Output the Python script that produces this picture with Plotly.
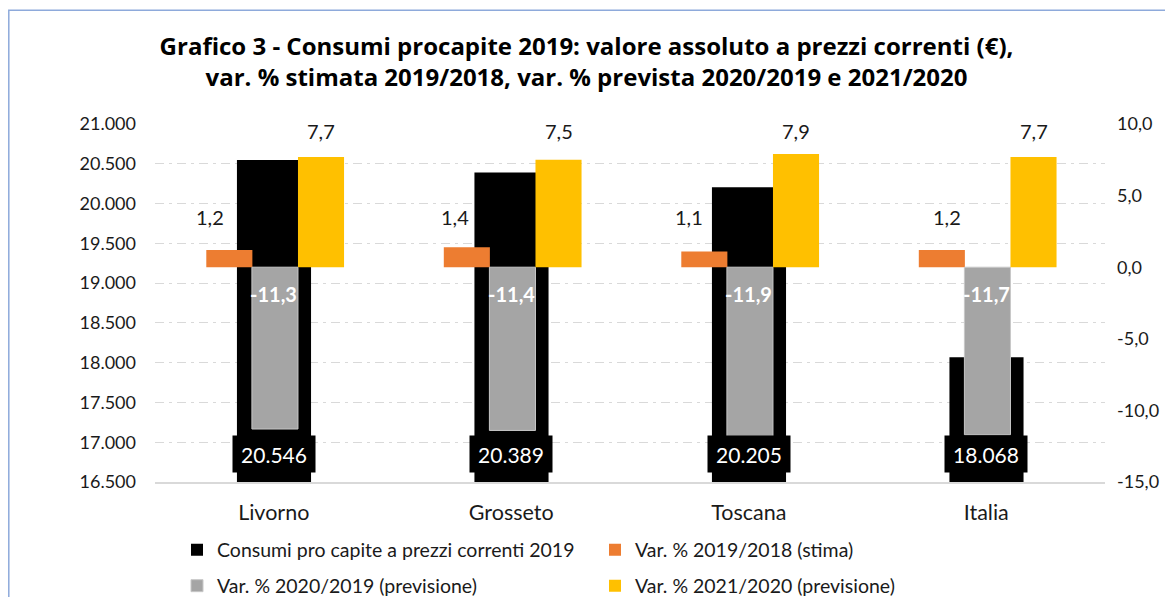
import plotly.graph_objects as go

# data
categorie = ["Livorno", "Grosseto", "Toscana", "Italia"]
consumi_2019 = [20546, 20389, 20205, 18068]
var_2019_2018 = [1.2, 1.4, 1.1, 1.2]
var_2020_2019 = [-11.3, -11.4, -11.9, -11.7]
var_2021_2020 = [7.7, 7.5, 7.9, 7.7]
tick_y2 = [-15, -10, -5, 0, 5, 10]

nomi = [
    "Consumi pro capite a prezzi correnti 2019",
    "Var. % 2019/2018 (stima)",
    "Var. % 2020/2019 (previsione)",
    "Var. % 2021/2020 (previsione)",
]

# the labels of the orange bars were moved by hand in the original
nudge_lbl_2018 = [-0.268, -0.236, -0.253, -0.167]

# page body has an 8px margin, keep the figure inside the window
W, H = 1157, 589
L, R, T, B = 147, 60, 116, 115
FONT = "Lato"
TXT = "#1a1a1a"


def fmt(v):
    return f"{v:.1f}".replace(".", ",")


def fmt_int(v):
    return f"{v:,}".replace(",", ".")


def px_x(px):
    return (px - L) / (W - L - R)


def px_y(py):
    return (H - B - py) / (H - T - B)


fig = go.Figure()

fig.add_trace(go.Bar(
    x=categorie, y=consumi_2019, name=nomi[0],
    marker=dict(color="#000000", line=dict(width=0)),
    width=0.312, offset=-0.155, legend="legend",
))
fig.add_trace(go.Bar(
    x=categorie, y=var_2019_2018, name=nomi[1], yaxis="y2",
    marker=dict(color="#ed7d31", line=dict(width=0)),
    width=0.194, offset=-0.284, legend="legend",
))
fig.add_trace(go.Bar(
    x=categorie, y=var_2020_2019, name=nomi[2], yaxis="y2",
    marker=dict(color="#a5a5a5", line=dict(width=1, color="#c8c8c8")),
    width=0.194, offset=-0.092, legend="legend2",
))
fig.add_trace(go.Bar(
    x=categorie, y=var_2021_2020, name=nomi[3], yaxis="y2",
    marker=dict(color="#ffc000", line=dict(width=0)),
    width=0.194, offset=0.102, legend="legend2",
))

ann = []
for c, v in zip(categorie, consumi_2019):
    ann.append(dict(
        x=c, y=16500, xref="x", yref="y", text=fmt_int(v), showarrow=False,
        yanchor="bottom", yshift=9, bgcolor="#000000", width=82, height=36,
        borderpad=0, font=dict(family=FONT, size=21, color="white"),
    ))
for i, c in enumerate(categorie):
    ann.append(dict(
        x=i + nudge_lbl_2018[i], y=3.5, xref="x", yref="y2", text=fmt(var_2019_2018[i]),
        showarrow=False, font=dict(family=FONT, size=20, color=TXT),
    ))
    ann.append(dict(
        x=i, y=-1.9, xref="x", yref="y2", text="<b>" + fmt(var_2020_2019[i]) + "</b>",
        showarrow=False, font=dict(family=FONT, size=20, color="white"),
    ))
    ann.append(dict(
        x=i + 0.2, y=9.5, xref="x", yref="y2", text=fmt(var_2021_2020[i]),
        showarrow=False, font=dict(family=FONT, size=20, color=TXT),
    ))

fig.update_layout(
    width=W, height=H,
    margin=dict(l=L, r=R, t=T, b=B, autoexpand=False),
    paper_bgcolor="white", plot_bgcolor="white",
    separators=",.",
    barmode="overlay",
    font=dict(family=FONT, color=TXT),
    title=dict(
        text="<b>Grafico 3 - Consumi procapite 2019: valore assoluto a prezzi correnti (€),<br>"
             "var. % stimata 2019/2018, var. % prevista 2020/2019 e 2021/2020</b>",
        x=0.5, xanchor="center", y=1 - 47 / H, yanchor="middle",
        font=dict(family="Open Sans", size=24, color="#000000"),
    ),
    xaxis=dict(
        showgrid=False, showline=True, linecolor="#d9d9d9", linewidth=1.5,
        ticks="", tickfont=dict(size=21.5, color=TXT), ticklabelstandoff=10,
        automargin=False,
    ),
    yaxis=dict(
        range=[16500, 21000], dtick=500, tickformat=",.0f",
        showgrid=True, gridcolor="#d9d9d9", gridwidth=1.3, griddash="9px,5px,3px,5px",
        zeroline=False, showline=False, ticks="", automargin=False,
        tickfont=dict(size=18, color=TXT), ticklabelstandoff=18,
    ),
    yaxis2=dict(
        overlaying="y", side="right", range=[-15, 10],
        tickvals=tick_y2, ticktext=[fmt(v) for v in tick_y2],
        showgrid=False, zeroline=False, showline=False, ticks="", automargin=False,
        tickfont=dict(size=18, color=TXT), ticklabelstandoff=11,
    ),
    legend=dict(
        orientation="h", x=px_x(169), xanchor="left", y=px_y(542), yanchor="middle",
        entrywidth=373, entrywidthmode="pixels", font=dict(size=19.5, color=TXT),
        bgcolor="rgba(0,0,0,0)",
    ),
    legend2=dict(
        orientation="h", x=px_x(169), xanchor="left", y=px_y(578), yanchor="middle",
        entrywidth=373, entrywidthmode="pixels", font=dict(size=19.5, color=TXT),
        bgcolor="rgba(0,0,0,0)",
    ),
    annotations=ann,
    shapes=[dict(
        type="rect", xref="paper", yref="paper", layer="below",
        x0=px_x(0.8), x1=px_x(1200), y0=px_y(640), y1=px_y(2.3),
        line=dict(color="#8eaadb", width=1.5), fillcolor="rgba(0,0,0,0)",
    )],
)

fig.write_html("out.html")
